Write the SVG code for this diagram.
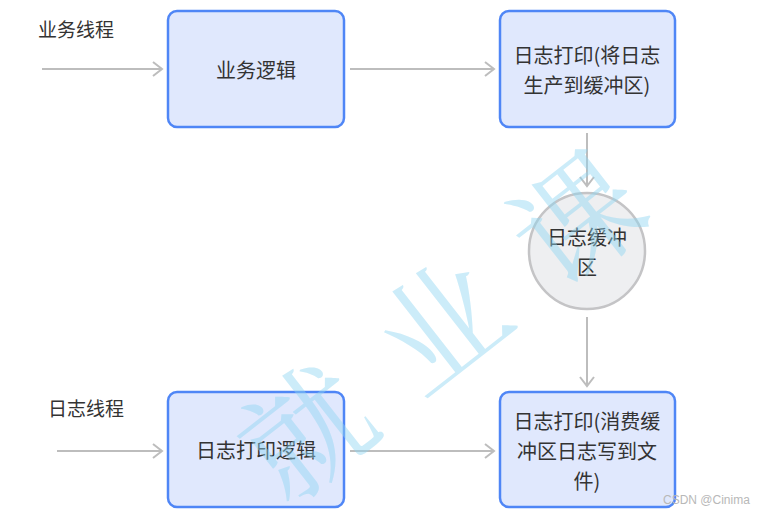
<svg xmlns="http://www.w3.org/2000/svg" width="765" height="513" viewBox="0 0 765 513">
<defs>
<style>
.box{fill:#e0e8fd;stroke:#4f86f6;stroke-width:2.5}
.buf{fill:#eeeff1;stroke:#c4c4c6;stroke-width:2.5}
.t{font-family:"Noto Sans CJK SC","Noto Sans",sans-serif;font-size:20px;fill:#333333;text-anchor:middle}
.lbl{font-family:"Noto Sans CJK SC","Noto Sans",sans-serif;font-size:19px;fill:#333333}
.c{stroke:#bdbdbd;stroke-width:2;fill:none;marker-end:url(#ah)}
.wm{font-family:"Noto Serif CJK SC","Noto Sans CJK SC",serif;font-size:126px;fill:#8fd6f2;opacity:0.45;text-anchor:middle}
.cs{font-family:"Liberation Sans",Arial,sans-serif;font-size:12px;fill:#b8b8b8}
</style>
<marker id="ah" markerWidth="12" markerHeight="16" refX="10" refY="8" orient="auto" markerUnits="userSpaceOnUse">
<path d="M1,1 L10,8 L1,15" fill="none" stroke="#bdbdbd" stroke-width="2"/>
</marker>
</defs>
<rect width="765" height="513" fill="#ffffff"/>
<g id="connectors">
<line class="c" x1="42" y1="69" x2="162" y2="69"/>
<line class="c" x1="350" y1="69" x2="494" y2="69"/>
<line class="c" x1="587" y1="133" x2="587" y2="186"/>
<line class="c" x1="587" y1="317" x2="587" y2="386"/>
<line class="c" x1="57" y1="451" x2="162" y2="451"/>
<line class="c" x1="350" y1="451" x2="494" y2="451"/>
</g>
<g id="label-business-thread"><text class="lbl" x="38" y="37">业务线程</text></g>
<g id="label-log-thread"><text class="lbl" x="48" y="416">日志线程</text></g>
<g id="node-business-logic">
<rect class="box" x="168" y="11" width="176" height="116" rx="9"/>
<text class="t" x="256" y="78">业务逻辑</text>
</g>
<g id="node-log-produce">
<rect class="box" x="500" y="11" width="175" height="116" rx="9"/>
<text class="t" x="587" y="63">日志打印(将日志</text>
<text class="t" x="587" y="93">生产到缓冲区)</text>
</g>
<g id="node-buffer">
<circle class="buf" cx="587" cy="251" r="58"/>
<text class="t" x="587" y="245">日志缓冲</text>
<text class="t" x="587" y="275">区</text>
</g>
<g id="node-log-logic">
<rect class="box" x="168" y="392" width="176" height="115" rx="9"/>
<text class="t" x="256" y="458">日志打印逻辑</text>
</g>
<g id="node-log-consume">
<rect class="box" x="500" y="392" width="175" height="115" rx="9"/>
<text class="t" x="587" y="429">日志打印(消费缓</text>
<text class="t" x="587" y="459">冲区日志写到文</text>
<text class="t" x="587" y="489">件)</text>
</g>
<g id="watermark">
<text class="wm" transform="translate(462,314) rotate(-38)" y="43" letter-spacing="46">就业课</text>
<text class="cs" x="663" y="504">CSDN @Cinima</text>
</g>
</svg>
